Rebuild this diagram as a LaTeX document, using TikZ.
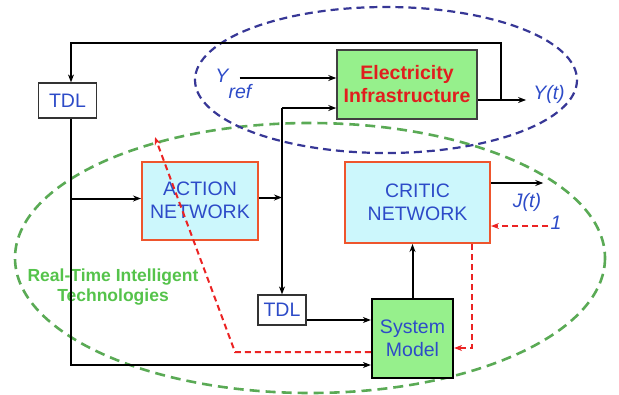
\documentclass[tikz,border=0pt]{standalone}
\usepackage{fontspec}
\setmainfont{Liberation Sans}
\usetikzlibrary{arrows.meta}
\definecolor{netfill}{RGB}{204,247,252}
\definecolor{netedge}{RGB}{238,85,45}
\definecolor{boxgreen}{RGB}{150,240,140}
\definecolor{txtblue}{RGB}{45,75,200}
\definecolor{txtred}{RGB}{225,30,30}
\definecolor{txtgreen}{RGB}{85,195,75}
\definecolor{ringgreen}{RGB}{90,170,85}
\definecolor{ringblue}{RGB}{55,55,150}
\definecolor{fbred}{RGB}{235,35,35}

\begin{document}
\begin{tikzpicture}[x=1pt,y=-1pt,font=\fontsize{19.5}{23}\selectfont,
	wire/.style={line width=2pt,-{Stealth[length=8pt,width=6pt]}},
	fb/.style={fbred,line width=2pt,dash pattern=on 6pt off 4pt,-{Stealth[length=8pt,width=6pt]}},
	net/.style={draw=netedge,fill=netfill,line width=2pt,text=txtblue,align=center,inner sep=0pt},
	tdlbox/.style={draw=black!80,fill=white,line width=1.2pt,text=txtblue,inner sep=0pt},
	lbl/.style={text=txtblue,font=\fontsize{19.5}{23}\selectfont\itshape,inner sep=2pt}]
\useasboundingbox (0,0) rectangle (619,394);

% dashed rings
\draw[ringgreen,line width=2.6pt,dash pattern=on 10pt off 6pt] (310,258) ellipse [x radius=295,y radius=135];
\draw[ringblue,line width=2.2pt,dash pattern=on 8pt off 5pt] (386,80) ellipse [x radius=191,y radius=73];

% blocks
\node[tdlbox,minimum width=58,minimum height=35] (tdlA) at (67.5,100.5) {TDL};
\node[tdlbox,minimum width=48,minimum height=30] (tdlB) at (282,310) {TDL};
\node[draw=black!75,fill=boxgreen,line width=1.5pt,text=txtred,align=center,inner sep=0pt,
	font=\fontsize{19.5}{23}\selectfont\bfseries,minimum width=140,minimum height=69] (elec) at (407,84.5) {Electricity\\Infrastructure};
\node[net,minimum width=116,minimum height=78] (action) at (200,200.5) {ACTION\\NETWORK};
\node[net,minimum width=145,minimum height=81] (critic) at (417.5,202.5) {CRITIC\\NETWORK};
\node[draw=black,fill=boxgreen,line width=2.2pt,text=txtblue,align=center,inner sep=0pt,
	minimum width=81,minimum height=79] (sysmodel) at (412.5,338.5) {System\\Model};

% labels
\node[lbl] (yref) at (222,76) {Y};
\node[lbl] (yrefsub) at (240,92) {ref};
\node[lbl] (yout) at (549,94) {Y(t)};
\node[lbl] (jout) at (527,202) {J(t)};
\node[lbl] (one) at (556,223) {1};
\node[text=txtgreen,align=center,font=\fontsize{17.5}{20}\selectfont\bfseries] (rtit) at (113,287) {Real-Time Intelligent\\Technologies};

\coordinate (fbtap) at (501,100);
\coordinate (fbtop) at (501,43);
\coordinate (lftbot) at (71,365);
\coordinate (bus) at (282,108);
\coordinate (fbknee) at (235,352);
\coordinate (fbtip) at (155,137);
\coordinate (yrefout) at ([xshift=9pt,yshift=-2pt]yref.east);
\coordinate (actin) at ([yshift=2pt]action.west);
\coordinate (actout) at ([yshift=3pt]action.east);
\coordinate (tdlBout) at ([yshift=-10pt]tdlB.east);
\coordinate (critout) at ([yshift=19.5pt]critic.east);
\coordinate (critin) at ([yshift=-23.5pt]critic.east);
\coordinate (critdn) at ([xshift=54.5pt]critic.south);

% signal paths
\draw[wire] (yrefout) -- (yrefout -| elec.west);
\draw[wire] (elec.east |- fbtap) -- ([xshift=-5pt]yout.west |- fbtap);
\draw[wire] (fbtap) -- (fbtop) -| ([xshift=3.5pt]tdlA.north);
\draw[wire] ([xshift=3.5pt]tdlA.south) -- (lftbot) -- (sysmodel.west |- lftbot);
\draw[wire] (actin -| lftbot) -- (actin);
\draw[wire] (actout) -- (actout -| bus);
\draw[wire] (bus) -- (tdlB.north);
\draw[wire] (bus) -- (bus -| elec.west);
\draw[wire] (tdlBout) -- (tdlBout -| sysmodel.west);
\draw[wire] (sysmodel.north) -- (sysmodel.north |- critic.south);
\draw[wire] (critout) -- (critout -| jout.east);

% error paths
\draw[fb] (one.west |- critin) -- (critin);
\draw[fb] (critdn) |- ([yshift=-9.5pt]sysmodel.east);
\draw[fb] ([yshift=-13.5pt]sysmodel.west) -- (fbknee) -- (fbtip);
\end{tikzpicture}
\end{document}
